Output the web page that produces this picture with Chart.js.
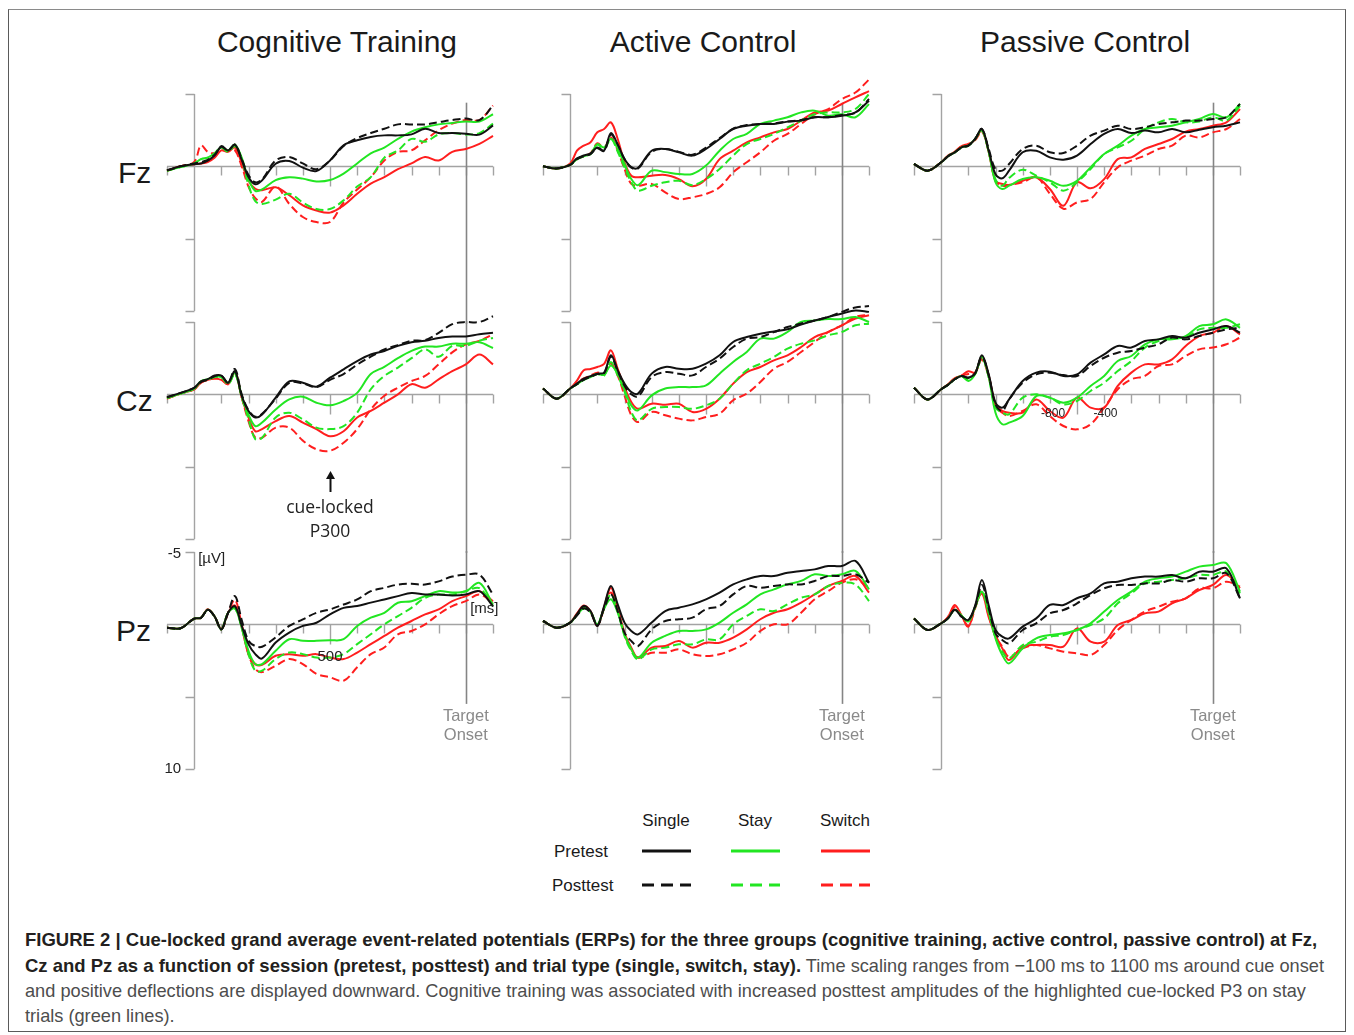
<!DOCTYPE html>
<html>
<head>
<meta charset="utf-8">
<script src="https://cdn.jsdelivr.net/npm/chart.js@4.4.0/dist/chart.umd.min.js"></script>
<style>
html,body{margin:0;padding:0;background:#fff;}
body{width:1354px;height:1035px;position:relative;overflow:hidden;font-family:"Liberation Sans",Arial,Helvetica,sans-serif;}
.frame{position:absolute;left:8px;top:9px;width:1338px;height:1023px;border:1.5px solid #5a5a5a;border-top-color:#8a8a8a;box-sizing:border-box;}
.t{position:absolute;white-space:nowrap;color:#1a1a1a;}
.title{font-size:30px;line-height:34px;width:400px;text-align:center;}
.row{font-size:30px;line-height:34px;}
.lg{font-size:17px;line-height:20px;}
.lgh{width:100px;text-align:center;}
canvas{position:absolute;}
.cap{position:absolute;left:25px;top:927px;font-size:18.2px;line-height:25px;white-space:nowrap;color:#4d4d4d;}
.cap b{color:#231f20;font-size:18.5px;}
</style>
</head>
<body>
<div class="frame"></div>

<div class="t title" style="left:137px;top:25px;">Cognitive Training</div>
<div class="t title" style="left:503px;top:25px;">Active Control</div>
<div class="t title" style="left:885px;top:25px;">Passive Control</div>

<div class="t row" style="left:118px;top:156px;">Fz</div>
<div class="t row" style="left:116px;top:384px;">Cz</div>
<div class="t row" style="left:116px;top:614px;">Pz</div>

<div class="t lg lgh" style="left:616px;top:811px;">Single</div>
<div class="t lg lgh" style="left:705px;top:811px;">Stay</div>
<div class="t lg lgh" style="left:795px;top:811px;">Switch</div>
<div class="t lg" style="left:554px;top:842px;">Pretest</div>
<div class="t lg" style="left:552px;top:876px;">Posttest</div>
<svg id="legendSvg" style="position:absolute;left:0;top:0;" width="1354" height="1035"></svg>

<div class="cap">
<b>FIGURE 2 | Cue-locked grand average event-related potentials (ERPs) for the three groups (cognitive training, active control, passive control) at Fz,</b><br>
<b>Cz and Pz as a function of session (pretest, posttest) and trial type (single, switch, stay).</b> Time scaling ranges from −100 ms to 1100 ms around cue onset<br>
and positive deflections are displayed downward. Cognitive training was associated with increased posttest amplitudes of the highlighted cue-locked P3 on stay<br>
trials (green lines).
</div>

<script>
// ---------------- DATA (µV; positive plotted downward) ----------------
const TIMES = [-100,-50,0,25,50,75,100,125,150,175, 200,225,250,300,350,400,450,500,550,600, 650,700,750,800,850,900,950,1000,1050,1100];
const X_TICKS = [-100,100,200,300,400,500,600,700,800,900,1000,1100];
const Y_TICKS = [-5,5,10];
const TARGET_ONSET = 1000;
const GROUPS = ['Cognitive Training','Active Control','Passive Control'];
const SITES = ['Fz','Cz','Pz'];
const TRIAL_TYPES = ['Single','Stay','Switch'];
const SESSIONS = ['Pretest','Posttest'];

// Cognitive Training
const ct_fz_single_pre  = [0.28,0,-0.15,-0.2,-0.4,-0.75,-1.35,-1.1,-1.5,-0.45, 0.74,1.24,0.97,-0.18,-0.37,0.09,0.32,-0.41,-1.45,-1.8, -2.03,-2.14,-2.14,-2.21,-2.6,-2.3,-2.3,-2.26,-2.19,-2.83];
const ct_fz_single_post = [0.28,0,-0.2,-0.3,-0.45,-0.8,-1.4,-1.1,-1.5,-0.5, 0.6,1.1,0.9,-0.4,-0.65,-0.2,0.2,-0.4,-1.4,-1.95, -2.3,-2.6,-2.9,-2.9,-2.9,-3.05,-3.2,-3.3,-3.2,-4.2];
const ct_fz_stay_pre    = [0.3,0.05,-0.2,-0.5,-0.6,-0.9,-1.3,-1.1,-1.5,-0.6, 0.9,1.7,1.6,0.95,0.75,0.85,1.05,0.95,0.5,-0.2, -0.9,-1.3,-1.9,-2.4,-2.7,-2.9,-3.0,-3.1,-3.1,-3.6];
const ct_fz_stay_post   = [0.3,0.05,-0.2,-0.5,-0.6,-0.9,-1.3,-1.0,-1.4,-0.5, 1.3,2.4,2.6,2.3,1.9,2.5,2.95,2.95,2.35,1.4, 0.75,-0.6,-1.1,-1.9,-1.7,-2.2,-2.3,-2.2,-2.3,-2.95];
const ct_fz_switch_pre  = [0.3,0,-0.15,-0.2,-0.3,-0.6,-1.1,-1.0,-1.3,-0.2, 1.0,1.55,1.65,1.45,2.0,2.7,3.05,3.2,2.7,1.9, 1.2,0.75,0.2,-0.2,-0.65,-0.4,-1.0,-1.2,-1.55,-2.1];
const ct_fz_switch_post = [0.3,0,-0.3,-1.45,-1.0,-0.9,-1.1,-1.1,-1.1,0, 1.4,2.2,2.45,1.4,2.6,3.5,3.85,3.85,2.5,1.6, 0.75,-0.4,-1.0,-1.1,-1.8,-2.5,-2.95,-3.2,-3.2,-4.2];

const ct_cz_single_pre  = [0.2,-0.1,-0.45,-0.9,-1.05,-1.3,-1.3,-0.8,-1.6,0.1, 1.15,1.6,1.4,0.23,-0.9,-0.8,-0.53,-1.15,-1.73,-2.3, -2.75,-3.0,-3.35,-3.6,-3.7,-3.9,-4.0,-4.0,-4.15,-4.25];
const ct_cz_single_post = [0.2,-0.1,-0.45,-0.85,-1.0,-1.25,-1.3,-0.8,-1.75,0.0, 1.1,1.55,1.35,0.3,-0.8,-0.75,-0.5,-1.0,-1.4,-2.05, -2.6,-3.1,-3.4,-3.7,-3.75,-4.25,-4.85,-5.0,-5.0,-5.4];
const ct_cz_stay_pre    = [0.25,-0.05,-0.4,-0.9,-1.05,-1.2,-1.2,-0.8,-1.5,0.1, 1.4,2.2,1.95,1.05,0.35,0.16,0.58,0.76,0.46,-0.1, -1.4,-1.9,-2.5,-3.0,-3.3,-3.3,-3.5,-3.5,-3.6,-3.2];
const ct_cz_stay_post   = [0.25,-0.05,-0.4,-0.9,-1.0,-1.2,-1.2,-0.7,-1.4,0.2, 1.7,3.1,3.0,1.6,1.27,1.73,2.3,2.4,2.2,1.27, -0.35,-1.27,-1.85,-2.5,-3.1,-2.6,-3.35,-3.35,-3.7,-3.9];
const ct_cz_switch_pre  = [0.3,-0.05,-0.35,-0.8,-1.0,-1.1,-1.0,-0.7,-1.5,0.2, 1.6,2.55,2.4,1.85,1.5,1.95,2.4,2.9,2.55,1.6, 1.15,0.58,0,-0.7,-0.46,-1.04,-1.6,-2.07,-2.75,-2.07];
const ct_cz_switch_post = [0.3,-0.05,-0.35,-0.8,-1.0,-1.1,-1.05,-0.7,-1.55,0.2, 1.85,3.0,3.0,2.3,2.3,3.2,3.8,3.9,3.35,2.4, 1.04,0.1,-0.46,-0.92,-1.27,-2.07,-2.9,-3.45,-3.7,-4.15];

const ct_pz_single_pre  = [0.23,0.27,-0.4,-0.45,-1.0,-0.55,0.35,-0.8,-1.25,0.1, 1.37,2.06,2.36,1.26,0.57,0.11,-0.11,-0.69,-1.14,-1.26, -1.5,-1.72,-1.95,-2.17,-2.06,-2.06,-2.0,-2.06,-2.29,-1.26];
const ct_pz_single_post = [0.23,0.27,-0.4,-0.45,-1.0,-0.55,0.35,-0.8,-1.95,-0.3, 1.14,1.5,1.55,0.9,0.11,-0.34,-0.8,-1.03,-1.37,-1.72, -2.29,-2.52,-2.75,-2.8,-2.75,-2.97,-3.3,-3.43,-3.43,-2.06];
const ct_pz_stay_pre    = [0.23,0.27,-0.4,-0.45,-1.0,-0.55,0.35,-0.8,-1.1,0.2, 1.83,2.75,2.75,1.83,1.03,1.14,1.14,1.1,1.03,0.11, -0.46,-0.8,-1.49,-1.6,-1.95,-2.29,-2.2,-2.29,-2.86,-1.37];
const ct_pz_stay_post   = [0.23,0.27,-0.4,-0.45,-1.0,-0.55,0.35,-0.8,-1.1,0.25, 2.06,3.2,3.2,2.4,1.95,2.06,2.3,2.3,2.06,1.37, 0.69,0,-0.57,-1.14,-1.83,-2.06,-2.06,-2.29,-2.5,-1.26];
const ct_pz_switch_pre  = [0.23,0.27,-0.4,-0.45,-1.05,-0.55,0.3,-0.8,-1.3,0.2, 2.06,2.75,2.8,2.17,2.06,2.17,2.06,2.29,2.4,1.95, 1.37,0.8,0.23,-0.23,-0.69,-1.03,-1.6,-1.95,-2.29,-1.6];
const ct_pz_switch_post = [0.23,0.27,-0.4,-0.45,-1.0,-0.55,0.35,-0.8,-1.7,0.0, 2.06,3.09,3.3,2.86,2.4,2.75,3.43,3.66,3.9,2.97, 2.06,1.6,0.69,0.46,0,-0.69,-1.26,-1.6,-2.06,-1.49];

// Active Control
const ac_fz_single_pre  = [0.0,0.15,-0.1,-0.55,-0.75,-0.9,-1.3,-1.1,-2.3,-1.5, -0.5,0.05,0.1,-1.08,-1.2,-0.97,-0.74,-1.2,-1.89,-2.58, -2.81,-2.93,-2.93,-3.09,-3.16,-3.39,-3.39,-3.5,-3.73,-4.54];
const ac_fz_single_post = [0.0,0.15,-0.1,-0.5,-0.7,-0.85,-1.25,-1.05,-2.2,-1.5, -0.5,0.1,0.15,-1.0,-1.2,-1.0,-0.8,-1.3,-1.95,-2.6, -2.85,-2.93,-2.97,-3.1,-3.2,-3.4,-3.4,-3.55,-3.7,-4.65];
const ac_fz_stay_pre    = [0.0,0.15,-0.1,-0.5,-0.7,-0.85,-1.54,-1.3,-1.9,-1.2, -0.16,0.88,1.3,0.3,0.4,0.53,0.53,-0.05,-1.08,-1.89, -2.24,-2.93,-3.16,-3.39,-3.73,-3.85,-3.5,-3.6,-3.39,-4.3];
const ac_fz_stay_post   = [0.0,0.15,-0.1,-0.5,-0.7,-0.85,-1.5,-1.2,-1.9,-1.0, 0.07,1.1,1.68,1.34,1.1,1.0,1.3,0.88,0.18,-0.74, -1.54,-1.89,-2.24,-2.7,-3.16,-3.6,-3.73,-3.73,-3.96,-5.0];
const ac_fz_switch_pre  = [0.0,0.15,-0.2,-1.08,-1.43,-1.66,-2.35,-2.58,-3.04,-1.89, -0.28,0.65,0.76,0.65,0.6,0.88,1.38,0.88,-0.5,-1.08, -1.66,-2.0,-2.35,-2.58,-3.16,-3.73,-3.85,-4.31,-4.77,-5.2];
const ac_fz_switch_post = [0.0,0.15,-0.1,-0.5,-0.7,-0.9,-1.6,-1.3,-2.0,-1.1, 0.18,1.22,1.34,1.22,1.8,2.26,2.14,1.91,1.45,0.41, -0.28,-0.97,-1.77,-2.24,-2.93,-3.6,-3.96,-4.65,-5.1,-6.0];

const ac_cz_single_pre  = [-0.4,0.3,-0.4,-0.74,-1.08,-1.25,-1.43,-1.5,-2.7,-1.66, -0.74,-0.16,-0.05,-1.43,-1.89,-1.77,-1.77,-2.12,-2.7,-3.62, -3.96,-4.19,-4.35,-4.5,-4.82,-5.1,-5.35,-5.58,-5.8,-5.7];
const ac_cz_single_post = [-0.4,0.3,-0.4,-0.7,-1.0,-1.2,-1.4,-1.45,-2.6,-1.6, -0.6,0.0,0.15,-1.2,-1.54,-1.43,-1.31,-1.89,-2.47,-3.27, -3.85,-3.96,-4.3,-4.65,-4.9,-5.1,-5.35,-5.7,-6.0,-6.1];
const ac_cz_stay_pre    = [-0.4,0.3,-0.4,-0.7,-1.0,-1.2,-1.4,-1.35,-2.0,-1.4, -0.3,0.76,1.1,0.07,-0.4,-0.5,-0.5,-0.62,-1.43,-2.24, -2.93,-3.85,-3.85,-4.31,-5.0,-5.1,-5.2,-5.2,-5.35,-5.0];
const ac_cz_stay_post   = [-0.4,0.3,-0.4,-0.7,-1.0,-1.2,-1.4,-1.3,-2.24,-1.3, -0.2,1.22,1.8,1.0,0.88,0.88,1.0,0.76,0.3,-0.74, -1.66,-2.12,-2.58,-3.16,-3.5,-3.73,-4.08,-4.31,-4.77,-4.88];
const ac_cz_switch_pre  = [-0.4,0.3,-0.4,-0.95,-1.66,-1.75,-1.89,-2.1,-3.04,-1.77, -0.5,0.53,1.0,0.65,0.72,0.65,1.22,1.0,0.3,-0.74, -1.54,-1.89,-2.35,-2.7,-3.27,-3.96,-4.31,-4.77,-5.23,-5.46];
const ac_cz_switch_post = [-0.4,0.3,-0.4,-0.8,-1.1,-1.3,-1.5,-1.45,-2.12,-1.3, 0.07,1.45,1.91,1.22,1.45,1.68,1.8,1.57,1.34,0.41, -0.05,-0.85,-1.77,-2.24,-2.93,-3.62,-4.31,-4.77,-5.35,-5.5];

const ac_pz_single_pre  = [-0.23,0.23,-0.12,-0.7,-1.27,-0.92,0.1,-1.27,-2.65,-1.38, -0.12,0.46,0.69,-0.12,-0.92,-1.15,-1.38,-1.73,-2.19,-2.76, -3.11,-3.34,-3.34,-3.57,-3.69,-3.8,-4.03,-4.03,-4.38,-2.88];
const ac_pz_single_post = [-0.23,0.23,-0.12,-0.6,-1.1,-0.8,0.1,-1.1,-2.07,-0.9, 0.58,1.15,1.5,0.35,-0.23,-0.35,-0.46,-1.04,-1.27,-2.07, -2.65,-2.53,-2.65,-2.76,-2.76,-3.0,-3.34,-3.34,-3.46,-2.88];
const ac_pz_stay_pre    = [-0.23,0.23,-0.12,-0.65,-1.1,-0.85,0.0,-1.1,-1.73,-0.8, 0.69,1.73,2.3,1.27,0.8,0.46,0.46,0.35,-0.12,-0.8, -1.38,-2.07,-2.42,-2.76,-3.0,-3.46,-3.34,-3.46,-3.69,-2.42];
const ac_pz_stay_post   = [-0.23,0.23,-0.12,-0.65,-1.1,-0.85,0.0,-1.1,-2.07,-0.9, 0.8,1.84,2.42,1.73,1.61,1.38,1.38,1.04,1.04,0, -0.58,-1.04,-0.92,-1.38,-1.84,-2.07,-2.65,-2.88,-2.76,-1.61];
const ac_pz_switch_pre  = [-0.23,0.23,-0.12,-0.75,-1.3,-0.9,0.1,-1.2,-2.53,-1.15, 0.58,1.61,2.3,1.61,1.5,1.15,1.61,1.27,1.27,0.92, 0.35,-0.35,-0.8,-1.04,-1.5,-2.07,-2.65,-3.0,-3.34,-2.19];
const ac_pz_switch_post = [-0.23,0.23,-0.12,-0.7,-1.2,-0.85,0.05,-1.1,-2.2,-1.0, 0.69,1.73,2.3,1.96,1.96,1.73,2.07,2.19,2.07,1.73, 1.27,0.46,0,0,-0.8,-1.73,-2.3,-2.88,-3.11,-2.53];

// Passive Control
const pc_fz_single_pre  = [-0.16,0.3,-0.28,-0.7,-0.97,-1.31,-1.43,-1.89,-2.58,-1.08, 0.55,0.83,0.3,-0.97,-1.08,-0.62,-0.46,-0.74,-1.54,-2.24, -2.58,-2.3,-2.47,-2.35,-2.58,-2.35,-2.53,-2.7,-2.81,-3.04];
const pc_fz_single_post = [-0.16,0.3,-0.28,-0.7,-0.97,-1.31,-1.43,-1.89,-2.58,-1.2, 0.2,0.3,-0.16,-1.2,-1.43,-0.97,-0.92,-1.43,-2.12,-2.47, -2.81,-2.58,-2.7,-2.93,-3.04,-3.16,-3.16,-3.27,-3.39,-4.31];
const pc_fz_stay_pre    = [-0.16,0.3,-0.28,-0.7,-0.97,-1.31,-1.43,-1.89,-2.5,-1.0, 1.1,1.57,1.34,0.88,0.76,1.0,1.34,1.0,0.07,-0.85, -1.43,-2.12,-2.58,-2.7,-2.81,-3.04,-3.27,-3.62,-3.39,-4.31];
const pc_fz_stay_post   = [-0.16,0.3,-0.28,-0.7,-0.97,-1.31,-1.43,-1.89,-2.5,-1.0, 0.9,1.34,0.8,0.23,0.65,1.1,1.68,1.1,0.18,-0.85, -1.31,-1.77,-2.58,-3.04,-3.27,-3.04,-3.1,-3.39,-3.16,-4.19];
const pc_fz_switch_pre  = [-0.16,0.3,-0.28,-0.75,-1.0,-1.4,-1.5,-1.85,-2.5,-1.0, 1.0,1.22,1.29,1.0,0.76,1.57,2.72,1.1,1.52,0.88, -0.5,-0.62,-1.2,-1.54,-1.89,-2.4,-2.58,-2.81,-3.04,-3.96];
const pc_fz_switch_post = [-0.16,0.3,-0.28,-0.7,-1.0,-1.4,-1.55,-1.8,-2.4,-1.0, 1.0,1.34,1.29,1.1,0.76,1.89,2.93,2.49,2.26,1.1, 0.07,-0.39,-0.74,-1.2,-1.43,-2.12,-2.0,-2.35,-2.58,-3.27];

const pc_cz_single_pre  = [-0.46,0.35,-0.35,-0.65,-1.04,-1.27,-1.15,-1.45,-2.7,-1.38, 0.58,0.92,0.35,-0.92,-1.5,-1.57,-1.27,-1.38,-2.19,-2.76, -3.34,-3.23,-3.69,-3.8,-4.03,-3.92,-4.26,-4.49,-4.72,-4.26];
const pc_cz_single_post = [-0.46,0.35,-0.35,-0.65,-1.04,-1.27,-1.15,-1.45,-2.6,-1.3, 0.7,1.15,0.35,-0.8,-1.38,-1.5,-1.33,-1.27,-1.96,-2.53, -2.88,-3.0,-3.23,-3.46,-3.92,-3.8,-4.03,-4.26,-4.49,-4.6];
const pc_cz_stay_pre    = [-0.46,0.35,-0.35,-0.65,-1.04,-1.27,-0.92,-1.4,-2.6,-1.2, 1.27,2.07,1.96,1.5,0.12,0.23,0.58,0.23,-0.58,-1.27, -2.3,-2.65,-3.46,-3.8,-3.8,-4.03,-4.72,-4.84,-5.18,-4.6];
const pc_cz_stay_post   = [-0.46,0.35,-0.35,-0.65,-1.04,-1.27,-1.0,-1.4,-2.5,-1.2, 0.9,1.27,1.38,0.23,0,0.23,0.69,0.46,-0.23,-0.8, -1.61,-2.3,-3.23,-3.69,-3.92,-3.92,-4.49,-4.6,-4.6,-4.84];
const pc_cz_switch_pre  = [-0.46,0.35,-0.35,-0.7,-1.1,-1.3,-1.6,-1.5,-2.6,-1.3, 0.69,1.15,1.27,1.27,0.35,1.15,1.61,0.23,0.92,0.92, -0.58,-1.5,-2.07,-2.07,-2.42,-3.34,-4.03,-4.26,-4.72,-4.15];
const pc_cz_switch_post = [-0.46,0.35,-0.35,-0.7,-1.1,-1.3,-1.4,-1.5,-2.4,-1.2, 0.8,1.27,1.5,1.15,0.69,1.5,2.19,2.42,2.07,0.92, -0.35,-1.04,-1.27,-1.96,-2.07,-2.65,-3.11,-3.23,-3.46,-3.92];

const pc_pz_single_pre  = [-0.41,0.39,-0.07,-0.41,-1.0,-0.53,-0.3,-1.3,-3.06,-1.3, 0.39,0.85,0.97,0.16,-0.41,-1.34,-1.34,-1.8,-2.14,-2.83, -2.95,-3.18,-3.3,-3.3,-3.41,-3.18,-3.64,-3.64,-3.87,-1.8];
const pc_pz_single_post = [-0.41,0.39,-0.07,-0.41,-1.0,-0.53,-0.3,-1.2,-2.72,-1.1, 0.62,1.08,1.31,0.39,-0.07,-0.76,-0.99,-1.45,-2.03,-2.49, -2.72,-2.72,-2.83,-2.83,-3.06,-2.95,-3.18,-3.18,-3.53,-1.8];
const pc_pz_stay_pre    = [-0.41,0.39,-0.07,-0.41,-1.0,-0.6,-0.2,-1.2,-2.26,-0.8, 0.97,2.12,2.7,1.66,0.97,0.74,0.62,0.39,-0.07,-0.88, -1.68,-2.26,-2.95,-3.18,-3.3,-3.64,-3.99,-4.1,-4.22,-2.26];
const pc_pz_stay_post   = [-0.41,0.39,-0.07,-0.41,-1.0,-0.6,-0.2,-1.2,-2.3,-0.8, 0.9,1.89,2.35,1.43,1.2,0.85,0.74,0.39,0.05,-0.41, -1.45,-2.14,-2.83,-2.95,-3.06,-3.18,-3.41,-3.41,-3.64,-2.14];
const pc_pz_switch_pre  = [-0.41,0.39,-0.07,-0.5,-1.34,-0.6,0.16,-1.2,-2.14,-0.5, 0.74,1.66,2.47,1.54,1.43,1.43,1.54,0.28,1.2,1.2, 0.05,-0.3,-0.76,-0.88,-1.45,-1.8,-2.37,-2.72,-3.41,-2.49];
const pc_pz_switch_post = [-0.41,0.39,-0.07,-0.5,-1.2,-0.6,0.1,-1.1,-2.3,-0.6, 0.85,1.54,2.24,1.66,1.43,1.66,1.89,2.0,2.12,1.43, 0.39,-0.3,-0.88,-1.22,-1.57,-1.8,-2.49,-2.49,-2.95,-2.6];

// ---------------- LAYOUT / STYLE ----------------
const COL_X = [167, 543, 914];   // pixel of -100 ms
const ROW_Y = [94, 322, 552];    // pixel of -5 µV
const PW = 326, PH = 217;
const PAD = {left: 34, right: 18, top: 24, bottom: 24};
const LINE_COLORS = ['#111111', '#22e622', '#ff1e1e'];
const AXIS_COLOR = '#a3a3a3';
const TARGET_COLOR = '#858585';
const FONT = '"Liberation Sans", Arial, sans-serif';

const SERIES = [
  [ [ct_fz_single_pre,ct_fz_single_post,ct_fz_stay_pre,ct_fz_stay_post,ct_fz_switch_pre,ct_fz_switch_post],
    [ct_cz_single_pre,ct_cz_single_post,ct_cz_stay_pre,ct_cz_stay_post,ct_cz_switch_pre,ct_cz_switch_post],
    [ct_pz_single_pre,ct_pz_single_post,ct_pz_stay_pre,ct_pz_stay_post,ct_pz_switch_pre,ct_pz_switch_post] ],
  [ [ac_fz_single_pre,ac_fz_single_post,ac_fz_stay_pre,ac_fz_stay_post,ac_fz_switch_pre,ac_fz_switch_post],
    [ac_cz_single_pre,ac_cz_single_post,ac_cz_stay_pre,ac_cz_stay_post,ac_cz_switch_pre,ac_cz_switch_post],
    [ac_pz_single_pre,ac_pz_single_post,ac_pz_stay_pre,ac_pz_stay_post,ac_pz_switch_pre,ac_pz_switch_post] ],
  [ [pc_fz_single_pre,pc_fz_single_post,pc_fz_stay_pre,pc_fz_stay_post,pc_fz_switch_pre,pc_fz_switch_post],
    [pc_cz_single_pre,pc_cz_single_post,pc_cz_stay_pre,pc_cz_stay_post,pc_cz_switch_pre,pc_cz_switch_post],
    [pc_pz_single_pre,pc_pz_single_post,pc_pz_stay_pre,pc_pz_stay_post,pc_pz_switch_pre,pc_pz_switch_post] ]
];

// panel-specific text annotations (in data coordinates)
function panelLabels(col, row) {
  const L = [];
  if (row === 2) {
    L.push({text:'Target', t:TARGET_ONSET, v:6.35, font:'16.5px '+FONT, color:'#8a8a8a', align:'center'});
    L.push({text:'Onset',  t:TARGET_ONSET, v:7.65, font:'16.5px '+FONT, color:'#8a8a8a', align:'center'});
  }
  if (col === 0 && row === 2) {
    L.push({text:'-5', t:0, dx:-13, v:-4.9, font:'15px '+FONT, color:'#222', align:'right'});
    L.push({text:'10', t:0, dx:-13, v:10, font:'15px '+FONT, color:'#222', align:'right'});
    L.push({text:'[µV]', t:0, dx:4, v:-4.5, font:'15px '+FONT, color:'#222', align:'left'});
    L.push({text:'500', t:500, v:2.25, font:'15px '+FONT, color:'#222', align:'center'});
    L.push({text:'[ms]', t:1068, v:-1.05, font:'15px '+FONT, color:'#222', align:'center'});
  }
  if (col === 0 && row === 1) {
    L.push({text:'cue-locked', t:500, v:7.85, font:'17.5px "Open Sans", sans-serif', color:'#222', align:'center'});
    L.push({text:'P300', t:500, v:9.5, font:'17.5px "Open Sans", sans-serif', color:'#222', align:'center'});
  }
  if (col === 2 && row === 1) {
    L.push({text:'-800', t:412, v:1.35, font:'12px "Liberation Sans Narrow", "Liberation Sans", sans-serif', color:'#222', align:'center'});
    L.push({text:'-400', t:605, v:1.35, font:'12px "Liberation Sans Narrow", "Liberation Sans", sans-serif', color:'#222', align:'center'});
  }
  return L;
}

const erpPlugin = {
  id: 'erp',
  beforeDatasetsDraw(chart) {
    const o = chart.options.plugins.erp;
    const ctx = chart.ctx, x = chart.scales.x, y = chart.scales.y;
    const px = v => x.getPixelForValue(v), py = v => y.getPixelForValue(v);
    ctx.save();
    ctx.strokeStyle = AXIS_COLOR; ctx.lineWidth = 1.4;
    const x0 = Math.round(px(0)) + 0.5, yz = Math.round(py(0)) + 0.5;
    ctx.beginPath();
    ctx.moveTo(x0, py(-5)); ctx.lineTo(x0, py(10));
    Y_TICKS.forEach(v => { const yy = Math.round(py(v)) + 0.5; ctx.moveTo(x0 - 9, yy); ctx.lineTo(x0, yy); });
    ctx.moveTo(px(-100), yz); ctx.lineTo(px(1100), yz);
    X_TICKS.forEach(t => { const xx = Math.round(px(t)) + 0.5; ctx.moveTo(xx, yz); ctx.lineTo(xx, yz + (t === 500 ? 20 : 9)); });
    ctx.stroke();
    // target onset line
    ctx.strokeStyle = TARGET_COLOR; ctx.lineWidth = 1.6;
    const xt = Math.round(px(TARGET_ONSET)) + 0.5;
    let top, bot;
    if (o.row === 0) { top = py(-4.4); bot = py(10) + 13; }
    else if (o.row === 1) { top = py(-5) - 1; bot = py(10) + 14; }
    else { top = py(-5) - 1; bot = py(5.5); }
    ctx.beginPath(); ctx.moveTo(xt, top); ctx.lineTo(xt, bot); ctx.stroke();
    ctx.restore();
  },
  afterDatasetsDraw(chart) {
    const o = chart.options.plugins.erp;
    const ctx = chart.ctx, x = chart.scales.x, y = chart.scales.y;
    ctx.save();
    ctx.textBaseline = 'middle';
    o.labels.forEach(l => {
      ctx.font = l.font; ctx.fillStyle = l.color; ctx.textAlign = l.align;
      ctx.fillText(l.text, x.getPixelForValue(l.t) + (l.dx || 0), y.getPixelForValue(l.v));
    });
    if (o.arrow) {
      const ax = Math.round(x.getPixelForValue(o.arrow.t)) + 0.5;
      const yTip = y.getPixelForValue(o.arrow.from), yEnd = y.getPixelForValue(o.arrow.to);
      ctx.strokeStyle = '#111'; ctx.fillStyle = '#111'; ctx.lineWidth = 2;
      ctx.beginPath(); ctx.moveTo(ax, yEnd); ctx.lineTo(ax, yTip + 6); ctx.stroke();
      ctx.beginPath(); ctx.moveTo(ax, yTip); ctx.lineTo(ax - 4.5, yTip + 8); ctx.lineTo(ax + 4.5, yTip + 8); ctx.closePath(); ctx.fill();
    }
    ctx.restore();
  }
};

for (let col = 0; col < 3; col++) {
  for (let row = 0; row < 3; row++) {
    const cv = document.createElement('canvas');
    const W = PW + PAD.left + PAD.right, H = PH + PAD.top + PAD.bottom;
    cv.width = W; cv.height = H;
    cv.style.width = W + 'px'; cv.style.height = H + 'px';
    cv.style.left = (COL_X[col] - PAD.left) + 'px';
    cv.style.top = (ROW_Y[row] - PAD.top) + 'px';
    cv.setAttribute('aria-label', GROUPS[col] + ' ' + SITES[row]);
    document.body.appendChild(cv);
    const datasets = SERIES[col][row].map((arr, i) => ({
      label: TRIAL_TYPES[Math.floor(i / 2)] + ' ' + SESSIONS[i % 2],
      data: TIMES.map((t, k) => ({x: t, y: arr[k]})),
      borderColor: LINE_COLORS[Math.floor(i / 2)],
      borderDash: i % 2 ? [8, 4] : [],
      borderWidth: 2,
      pointRadius: 0,
      tension: 0.35,
      fill: false,
      clip: false
    }));
    new Chart(cv, {
      type: 'line',
      data: {datasets},
      options: {
        responsive: false, animation: false, devicePixelRatio: 1, events: [],
        layout: {padding: PAD},
        scales: {
          x: {type: 'linear', min: -100, max: 1100, display: false},
          y: {type: 'linear', min: -5, max: 10, reverse: true, display: false}
        },
        plugins: {
          legend: {display: false}, tooltip: {enabled: false},
          erp: {row, col, labels: panelLabels(col, row),
                arrow: (col === 0 && row === 1) ? {t: 500, from: 5.3, to: 6.75} : null}
        }
      },
      plugins: [erpPlugin]
    });
  }
}

// legend swatches
(function () {
  const svg = document.getElementById('legendSvg');
  const xs = [[642, 691], [731, 780], [821, 870]];
  const ys = [851, 885];
  xs.forEach((r, i) => ys.forEach((yy, j) => {
    const ln = document.createElementNS('http://www.w3.org/2000/svg', 'line');
    ln.setAttribute('x1', r[0]); ln.setAttribute('x2', r[1]);
    ln.setAttribute('y1', yy); ln.setAttribute('y2', yy);
    ln.setAttribute('stroke', LINE_COLORS[i]); ln.setAttribute('stroke-width', 3);
    if (j === 1) ln.setAttribute('stroke-dasharray', '12 7');
    svg.appendChild(ln);
  }));
})();
</script>
</body>
</html>
